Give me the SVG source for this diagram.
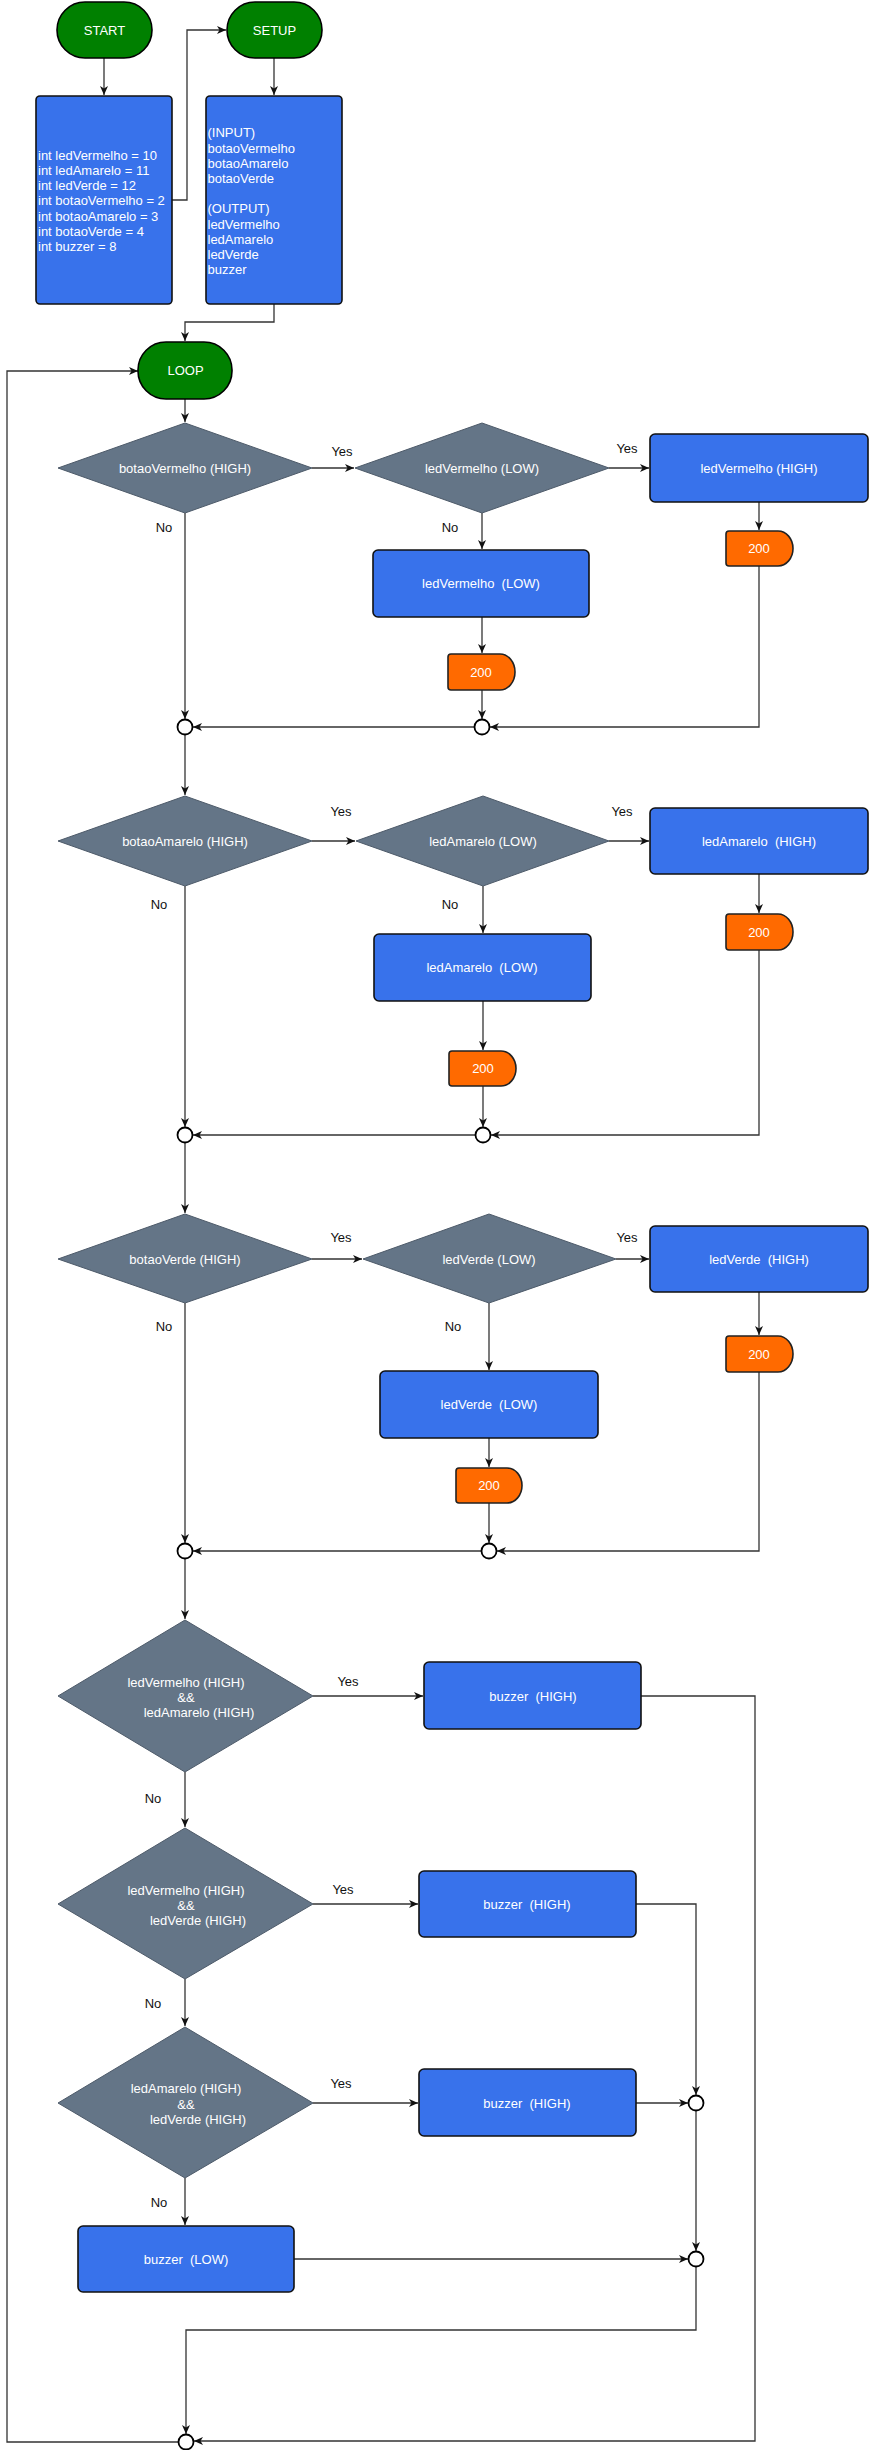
<svg xmlns="http://www.w3.org/2000/svg" width="870" height="2450" viewBox="0 0 870 2450">
<style>
.term{fill:#008000;stroke:#000;stroke-width:1.6}
.proc{fill:#3872EB;stroke:#111;stroke-width:1.6}
.dec{fill:#647587;stroke:#4d5a69;stroke-width:1}
.delay{fill:#FF6A00;stroke:#222;stroke-width:1.6}
.jn{fill:#fff;stroke:#000;stroke-width:1.8}
.wt{fill:#fff;font-family:"Liberation Sans",Arial,sans-serif;font-size:13px;white-space:pre}
.c{text-anchor:middle}
.lbl{fill:#111;font-family:"Liberation Sans",Arial,sans-serif;font-size:13px;text-anchor:middle}
.edge{fill:none;stroke:#333;stroke-width:1.3;marker-end:url(#arr)}
.line{fill:none;stroke:#333;stroke-width:1.3}
</style>
<defs>
<marker id="arr" markerUnits="userSpaceOnUse" markerWidth="10" markerHeight="10" refX="9" refY="4" orient="auto">
<path d="M0,0 L9,4 L0,8 L2.5,4 Z" fill="#111"/>
</marker>
</defs>
<rect width="870" height="2450" fill="#fff"/>

<g id="connectors">
<path class="edge" d="M104,58 V95"/>
<path class="edge" d="M172,200 H187 V30 H226"/>
<path class="edge" d="M274,58 V95"/>
<path class="edge" d="M274,304 V322 H185 V341"/>
<path class="edge" d="M185,399 V422"/>
<path class="edge" d="M312,468 H354"/>
<path class="edge" d="M609,468 H649"/>
<path class="edge" d="M759,502 V530"/>
<path class="edge" d="M759,566 V727 H490"/>
<path class="edge" d="M482,513 V549"/>
<path class="edge" d="M482,617 V653"/>
<path class="edge" d="M482,690 V719"/>
<path class="edge" d="M474.5,727 H193"/>
<path class="edge" d="M185,513 V719"/>
<path class="edge" d="M185,735 V795"/>

<path class="edge" d="M312,841 H355"/>
<path class="edge" d="M609,841 H649"/>
<path class="edge" d="M759,874 V913"/>
<path class="edge" d="M759,950 V1135 H491"/>
<path class="edge" d="M483,886 V933"/>
<path class="edge" d="M483,1001 V1050"/>
<path class="edge" d="M483,1086 V1127"/>
<path class="edge" d="M475.5,1135 H193"/>
<path class="edge" d="M185,886 V1127"/>
<path class="edge" d="M185,1143 V1213"/>

<path class="edge" d="M312,1259 H362"/>
<path class="edge" d="M616,1259 H649"/>
<path class="edge" d="M759,1292 V1335"/>
<path class="edge" d="M759,1372 V1551 H497"/>
<path class="edge" d="M489,1303 V1370"/>
<path class="edge" d="M489,1438 V1467"/>
<path class="edge" d="M489,1503 V1543"/>
<path class="edge" d="M481.5,1551 H193"/>
<path class="edge" d="M185,1303 V1543"/>
<path class="edge" d="M185,1559 V1619"/>

<path class="edge" d="M313,1696 H423"/>
<path class="edge" d="M641,1696 H755 V2441 H194"/>
<path class="edge" d="M185,1772 V1827"/>
<path class="edge" d="M313,1904 H418"/>
<path class="edge" d="M636,1904 H696 V2095"/>
<path class="edge" d="M185,1979 V2026"/>
<path class="edge" d="M313,2103 H418"/>
<path class="edge" d="M636,2103 H688"/>
<path class="edge" d="M185,2178 V2225"/>
<path class="edge" d="M294,2259 H688"/>
<path class="edge" d="M696,2110.5 V2251"/>
<path class="edge" d="M696,2266.5 V2330 H186 V2434"/>
<path class="edge" d="M178.5,2442 H7 V371 H138"/>
</g>

<g id="start"><rect class="term" x="57" y="2" width="95" height="56" rx="28"/><text class="wt c" x="104.5" y="34.5">START</text></g>
<g id="setup"><rect class="term" x="227" y="2" width="95" height="56" rx="28"/><text class="wt c" x="274.5" y="34.5">SETUP</text></g>

<g id="vars"><rect class="proc" x="36" y="96" width="136" height="208" rx="4"/>
<text class="wt" x="38" y="159.6">int ledVermelho = 10<tspan x="38" dy="15.28">int ledAmarelo = 11</tspan><tspan x="38" dy="15.28">int ledVerde = 12</tspan><tspan x="38" dy="15.28">int botaoVermelho = 2</tspan><tspan x="38" dy="15.28">int botaoAmarelo = 3</tspan><tspan x="38" dy="15.28">int botaoVerde = 4</tspan><tspan x="38" dy="15.28">int buzzer = 8</tspan></text></g>

<g id="pins"><rect class="proc" x="206" y="96" width="136" height="208" rx="4"/>
<text class="wt" x="207.5" y="137.3">(INPUT)<tspan x="207.5" dy="15.2">botaoVermelho</tspan><tspan x="207.5" dy="15.2">botaoAmarelo</tspan><tspan x="207.5" dy="15.2">botaoVerde</tspan><tspan x="207.5" dy="30.4">(OUTPUT)</tspan><tspan x="207.5" dy="15.2">ledVermelho</tspan><tspan x="207.5" dy="15.2">ledAmarelo</tspan><tspan x="207.5" dy="15.2">ledVerde</tspan><tspan x="207.5" dy="15.2">buzzer</tspan></text></g>

<g id="loop"><rect class="term" x="138" y="342" width="94" height="57" rx="28"/><text class="wt c" x="185.5" y="375">LOOP</text></g>

<!-- Section 1 -->
<g id="d1"><polygon class="dec" points="185,423 312,468 185,513 58,468"/><text class="wt c" x="185" y="473">botaoVermelho (HIGH)</text></g>
<g id="d2"><polygon class="dec" points="482,423 609,468 482,513 355,468"/><text class="wt c" x="482" y="473">ledVermelho (LOW)</text></g>
<g id="h1"><rect class="proc" x="650" y="434" width="218" height="68" rx="5"/><text class="wt c" x="759" y="473">ledVermelho (HIGH)</text></g>
<g id="dl1a"><path class="delay" d="M729,531 H778 A15,17.5 0 0 1 778,566 H729 Q726,566 726,563 V534 Q726,531 729,531 Z"/><text class="wt c" x="759" y="553">200</text></g>
<g id="l1"><rect class="proc" x="373" y="550" width="216" height="67" rx="5"/><text class="wt c" x="481" y="588">ledVermelho  (LOW)</text></g>
<g id="dl1b"><path class="delay" d="M451,654 H500 A15,18 0 0 1 500,690 H451 Q448,690 448,687 V657 Q448,654 451,654 Z"/><text class="wt c" x="481" y="677">200</text></g>
<g id="j1"><circle class="jn" cx="185" cy="727" r="7.5"/></g>
<g id="j2"><circle class="jn" cx="482" cy="727" r="7.5"/></g>

<!-- Section 2 -->
<g id="d3"><polygon class="dec" points="185,796 312,841 185,886 58,841"/><text class="wt c" x="185" y="846">botaoAmarelo (HIGH)</text></g>
<g id="d4"><polygon class="dec" points="483,796 609,841 483,886 356,841"/><text class="wt c" x="483" y="846">ledAmarelo (LOW)</text></g>
<g id="h2"><rect class="proc" x="650" y="808" width="218" height="66" rx="5"/><text class="wt c" x="759" y="846">ledAmarelo  (HIGH)</text></g>
<g id="dl2a"><path class="delay" d="M729,914 H778 A15,18 0 0 1 778,950 H729 Q726,950 726,947 V917 Q726,914 729,914 Z"/><text class="wt c" x="759" y="937">200</text></g>
<g id="l2"><rect class="proc" x="374" y="934" width="217" height="67" rx="5"/><text class="wt c" x="482" y="972">ledAmarelo  (LOW)</text></g>
<g id="dl2b"><path class="delay" d="M452,1051 H501 A15,17.5 0 0 1 501,1086 H452 Q449,1086 449,1083 V1054 Q449,1051 452,1051 Z"/><text class="wt c" x="483" y="1073">200</text></g>
<g id="j3"><circle class="jn" cx="185" cy="1135" r="7.5"/></g>
<g id="j4"><circle class="jn" cx="483" cy="1135" r="7.5"/></g>

<!-- Section 3 -->
<g id="d5"><polygon class="dec" points="185,1214 312,1259 185,1303 58,1259"/><text class="wt c" x="185" y="1264">botaoVerde (HIGH)</text></g>
<g id="d6"><polygon class="dec" points="489,1214 616,1259 489,1303 363,1259"/><text class="wt c" x="489" y="1264">ledVerde (LOW)</text></g>
<g id="h3"><rect class="proc" x="650" y="1226" width="218" height="66" rx="5"/><text class="wt c" x="759" y="1264">ledVerde  (HIGH)</text></g>
<g id="dl3a"><path class="delay" d="M729,1336 H778 A15,18 0 0 1 778,1372 H729 Q726,1372 726,1369 V1339 Q726,1336 729,1336 Z"/><text class="wt c" x="759" y="1359">200</text></g>
<g id="l3"><rect class="proc" x="380" y="1371" width="218" height="67" rx="5"/><text class="wt c" x="489" y="1409">ledVerde  (LOW)</text></g>
<g id="dl3b"><path class="delay" d="M459,1468 H507 A15,17.5 0 0 1 507,1503 H459 Q456,1503 456,1500 V1471 Q456,1468 459,1468 Z"/><text class="wt c" x="489" y="1490">200</text></g>
<g id="j5"><circle class="jn" cx="185" cy="1551" r="7.5"/></g>
<g id="j6"><circle class="jn" cx="489" cy="1551" r="7.5"/></g>

<!-- Section 4 -->
<g id="d7"><polygon class="dec" points="185,1620 313,1696 185,1772 58,1696"/><text class="wt c" x="186" y="1686.5">ledVermelho (HIGH)</text><text class="wt c" x="186" y="1701.5">&amp;&amp;</text><text class="wt c" x="199" y="1716.5">ledAmarelo (HIGH)</text></g>
<g id="b1"><rect class="proc" x="424" y="1662" width="217" height="67" rx="5"/><text class="wt c" x="533" y="1700.5">buzzer  (HIGH)</text></g>
<g id="d8"><polygon class="dec" points="185,1828 313,1904 185,1979 58,1904"/><text class="wt c" x="186" y="1894.5">ledVermelho (HIGH)</text><text class="wt c" x="186" y="1909.5">&amp;&amp;</text><text class="wt c" x="198" y="1924.5">ledVerde (HIGH)</text></g>
<g id="b2"><rect class="proc" x="419" y="1871" width="217" height="66" rx="5"/><text class="wt c" x="527" y="1908.5">buzzer  (HIGH)</text></g>
<g id="d9"><polygon class="dec" points="185,2027 313,2103 185,2178 58,2103"/><text class="wt c" x="186" y="2092.5">ledAmarelo (HIGH)</text><text class="wt c" x="186" y="2108.5">&amp;&amp;</text><text class="wt c" x="198" y="2123.5">ledVerde (HIGH)</text></g>
<g id="b3"><rect class="proc" x="419" y="2069" width="217" height="67" rx="5"/><text class="wt c" x="527" y="2107.5">buzzer  (HIGH)</text></g>
<g id="bl"><rect class="proc" x="78" y="2226" width="216" height="66" rx="5"/><text class="wt c" x="186" y="2263.5">buzzer  (LOW)</text></g>
<g id="ja"><circle class="jn" cx="696" cy="2103" r="7.5"/></g>
<g id="jb"><circle class="jn" cx="696" cy="2259" r="7.5"/></g>
<g id="jend"><circle class="jn" cx="186" cy="2442" r="7.5"/></g>

<g id="labels">
<text class="lbl" x="342" y="455.5">Yes</text>
<text class="lbl" x="627" y="452.5">Yes</text>
<text class="lbl" x="164" y="531.5">No</text>
<text class="lbl" x="450" y="531.5">No</text>
<text class="lbl" x="341" y="815.5">Yes</text>
<text class="lbl" x="622" y="815.5">Yes</text>
<text class="lbl" x="159" y="908.5">No</text>
<text class="lbl" x="450" y="908.5">No</text>
<text class="lbl" x="341" y="1241.5">Yes</text>
<text class="lbl" x="627" y="1241.5">Yes</text>
<text class="lbl" x="164" y="1330.5">No</text>
<text class="lbl" x="453" y="1330.5">No</text>
<text class="lbl" x="348" y="1685.5">Yes</text>
<text class="lbl" x="153" y="1802.5">No</text>
<text class="lbl" x="343" y="1893.5">Yes</text>
<text class="lbl" x="153" y="2007.5">No</text>
<text class="lbl" x="341" y="2087.5">Yes</text>
<text class="lbl" x="159" y="2206.5">No</text>
</g>
</svg>
